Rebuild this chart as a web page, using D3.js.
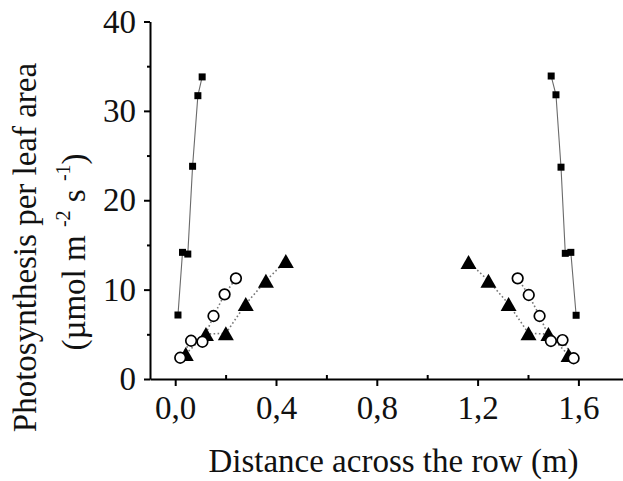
<!DOCTYPE html>
<html>
<head>
<meta charset="utf-8">
<script src="https://cdn.jsdelivr.net/npm/d3@7"></script>
<style>
  html, body { margin: 0; padding: 0; background: #fff; }
  svg { display: block; }
  text { font-family: "Liberation Serif", "Times New Roman", serif; fill: #111; }
</style>
</head>
<body>
<svg id="chart" width="623" height="481"></svg>
<script>
// ---- data ----
const squaresLeftX  = [0.011, 0.029, 0.050, 0.069, 0.090, 0.107];
const squaresLeftY  = [7.16, 14.17, 13.98, 23.8, 31.7, 33.8];
const squaresRightX = [1.492, 1.511, 1.531, 1.548, 1.570, 1.591];
const squaresRightY = [33.9, 31.8, 23.7, 14.06, 14.17, 7.13];

const circlesLeftX  = [0.020, 0.063, 0.108, 0.152, 0.196, 0.241];
const circlesLeftY  = [2.38, 4.28, 4.17, 7.05, 9.47, 11.26];
const circlesRightX = [1.359, 1.403, 1.446, 1.491, 1.537, 1.581];
const circlesRightY = [11.26, 9.40, 7.05, 4.25, 4.36, 2.32];

const trianglesLeftX  = [0.042, 0.122, 0.201, 0.280, 0.360, 0.439];
const trianglesLeftY  = [2.80, 5.03, 5.11, 8.39, 11.0, 13.2];
const trianglesRightX = [1.164, 1.243, 1.323, 1.402, 1.481, 1.561];
const trianglesRightY = [13.1, 11.0, 8.39, 5.11, 5.03, 2.68];

const xMajorTicks = [0, 0.4, 0.8, 1.2, 1.6];
const xMinorTicks = [0.2, 0.6, 1.0, 1.4];
const yMajorTicks = [0, 10, 20, 30, 40];
const yMinorTicks = [5, 15, 25, 35];
const xTitle = "Distance across the row (m)";
const yTitle1 = "Photosynthesis per leaf area";

// ---- drawing ----
const svg = d3.select("#chart");
const FS = 33;

const x = d3.scaleLinear().domain([-0.1, 1.8]).range([150, 628.8]);
const y = d3.scaleLinear().domain([0, 40]).range([379, 21.5]);

const zip = (xs, ys) => xs.map((v, i) => [v, ys[i]]);
const line = d3.line().x(d => x(d[0])).y(d => y(d[1]));

// lines
[zip(squaresLeftX, squaresLeftY), zip(squaresRightX, squaresRightY)].forEach(s => {
  svg.append("path").attr("d", line(s)).attr("fill", "none")
    .attr("stroke", "#6a6a6a").attr("stroke-width", 1.1);
});
[zip(trianglesLeftX, trianglesLeftY), zip(trianglesRightX, trianglesRightY),
 zip(circlesLeftX, circlesLeftY), zip(circlesRightX, circlesRightY)].forEach(s => {
  svg.append("path").attr("d", line(s)).attr("fill", "none")
    .attr("stroke", "#777").attr("stroke-width", 1.6)
    .attr("stroke-dasharray", "1.6,2.4");
});

// squares
const sq = 7;
svg.append("g").selectAll("rect")
  .data(zip(squaresLeftX, squaresLeftY).concat(zip(squaresRightX, squaresRightY)))
  .join("rect")
  .attr("x", d => x(d[0]) - sq / 2).attr("y", d => y(d[1]) - sq / 2)
  .attr("width", sq).attr("height", sq).attr("fill", "#000");

// triangles
const tw = 16, th = 14;
svg.append("g").selectAll("path")
  .data(zip(trianglesLeftX, trianglesLeftY).concat(zip(trianglesRightX, trianglesRightY)))
  .join("path")
  .attr("d", d => {
    const cx = x(d[0]), cy = y(d[1]);
    return `M${cx},${cy - th / 2}L${cx + tw / 2},${cy + th / 2}L${cx - tw / 2},${cy + th / 2}Z`;
  })
  .attr("fill", "#000");

// circles
svg.append("g").selectAll("circle")
  .data(zip(circlesLeftX, circlesLeftY).concat(zip(circlesRightX, circlesRightY)))
  .join("circle")
  .attr("cx", d => x(d[0])).attr("cy", d => y(d[1])).attr("r", 5.3)
  .attr("fill", "#fff").attr("stroke", "#000").attr("stroke-width", 1.7);

// axes
const fmt = d => d.toFixed(1).replace(".", ",");
const gx = svg.append("g").attr("transform", `translate(0,${y(0)})`)
  .call(d3.axisBottom(x).tickValues(xMajorTicks).tickFormat(fmt)
    .tickSize(7).tickSizeOuter(0).tickPadding(10));
const gxm = svg.append("g").attr("transform", `translate(0,${y(0)})`)
  .call(d3.axisBottom(x).tickValues(xMinorTicks).tickFormat("")
    .tickSize(-4).tickSizeOuter(0));
gxm.select(".domain").remove();

const gy = svg.append("g").attr("transform", `translate(${x(-0.1)},0)`)
  .call(d3.axisLeft(y).tickValues(yMajorTicks).tickFormat(d3.format("d"))
    .tickSize(6).tickSizeOuter(0).tickPadding(8));
const gym = svg.append("g").attr("transform", `translate(${x(-0.1)},0)`)
  .call(d3.axisLeft(y).tickValues(yMinorTicks).tickFormat("")
    .tickSize(3).tickSizeOuter(0));
gym.select(".domain").remove();

svg.selectAll(".domain").attr("stroke", "#000").attr("stroke-width", 2);
svg.selectAll(".tick line").attr("stroke", "#000").attr("stroke-width", 2);
svg.selectAll(".tick text").attr("font-size", FS)
  .attr("font-family", "Liberation Serif, Times New Roman, serif").attr("fill", "#111");

// titles
svg.append("text").attr("x", 393.5).attr("y", 471.5)
  .attr("text-anchor", "middle").attr("font-size", FS).text(xTitle);

svg.append("text").attr("transform", "translate(36,247.5) rotate(-90)")
  .attr("text-anchor", "middle").attr("font-size", FS).text(yTitle1);

const t2 = svg.append("text").attr("transform", "translate(85,252) rotate(-90)")
  .attr("text-anchor", "middle").attr("font-size", FS);
t2.append("tspan").text("(µmol m ");
t2.append("tspan").attr("font-size", 20).attr("dy", -15).text("-2");
t2.append("tspan").attr("dy", 15).text(" s ");
t2.append("tspan").attr("font-size", 20).attr("dy", -15).text("-1");
t2.append("tspan").attr("dy", 15).text(")");
</script>
</body>
</html>
